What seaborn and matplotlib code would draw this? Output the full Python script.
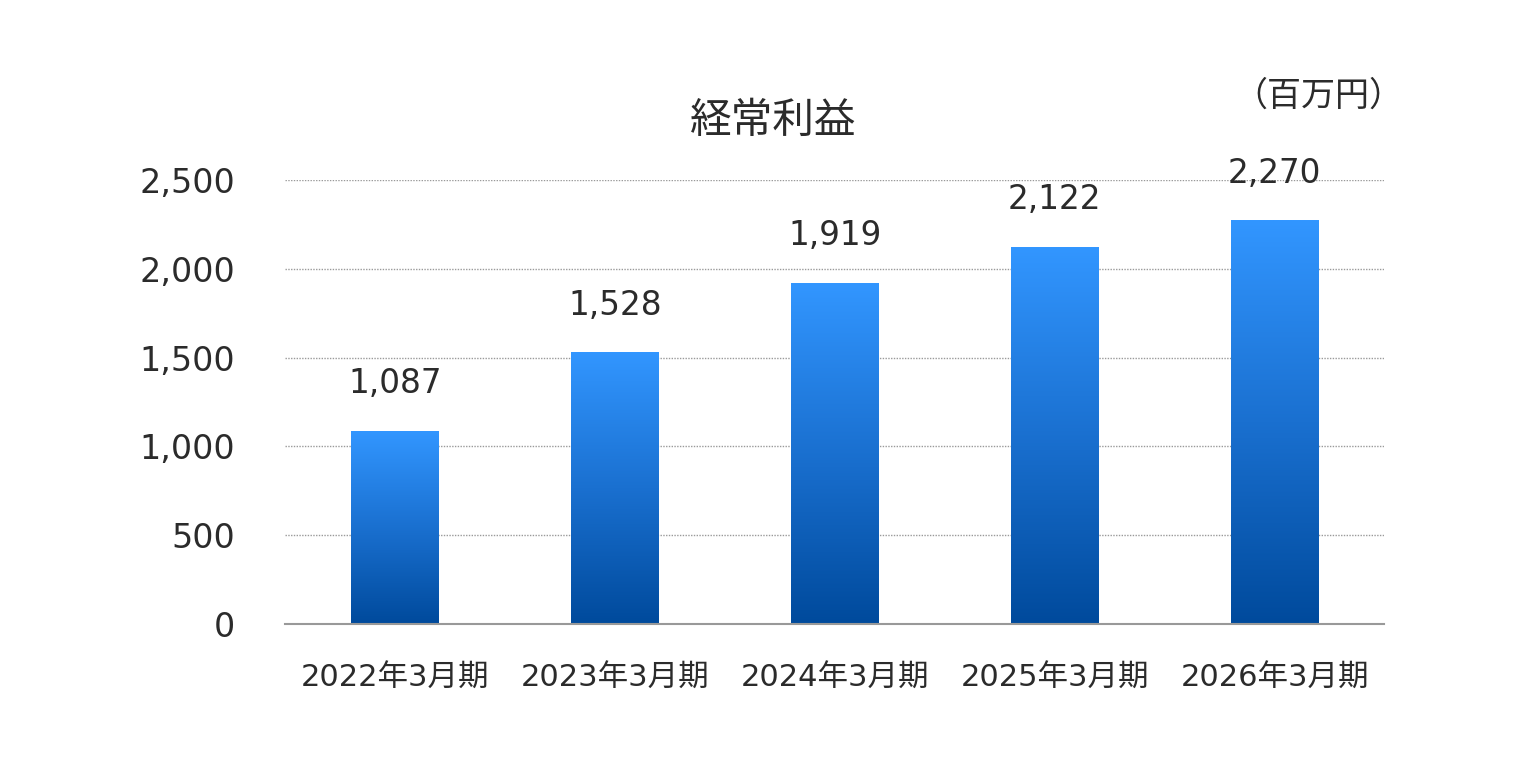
import numpy as np
import matplotlib
matplotlib.use('Agg')
import matplotlib.pyplot as plt
import seaborn as sns
import pandas as pd
from matplotlib.colors import LinearSegmentedColormap

sns.set_theme(style="white")
# Verdana-like digits from DejaVu, kanji from Noto CJK
plt.rcParams['font.family'] = ['DejaVu Sans', 'Noto Sans CJK JP']

# Data
periods = ['2022年3月期', '2023年3月期', '2024年3月期', '2025年3月期', '2026年3月期']
values = [1087, 1528, 1919, 2122, 2270]
yticks = [0, 500, 1000, 1500, 2000, 2500]

TEXT = '#2b2b2b'
CJK = ['Noto Sans CJK JP', 'DejaVu Sans']
df = pd.DataFrame({'period': periods, 'value': values})

fig = plt.figure(figsize=(15.4, 7.6), dpi=100)
ax = fig.add_axes([0.185, 0.179, 0.714, 0.584])

sns.barplot(data=df, x='period', y='value', width=0.4, color='#1f77d0', ax=ax)

# vertical gradient fill for each bar
grad = LinearSegmentedColormap.from_list('bar', ['#004a9c', '#1a70d0', '#3296ff'])
img = np.linspace(0, 1, 256).reshape(-1, 1)
for p in ax.patches:
    x0, y0 = p.get_x(), p.get_y()
    w, h = p.get_width(), p.get_height()
    ax.imshow(img, cmap=grad, origin='lower', aspect='auto',
              extent=[x0, x0 + w, y0, y0 + h], zorder=2)
    p.set_visible(False)
    ax.text(x0 + w / 2, y0 + h + 215, f'{int(h):,}', ha='center', va='baseline',
            fontsize=23.5, color=TEXT)

ax.set_xlim(-0.5, len(periods) - 0.5)
ax.set_ylim(0, 2500)
ax.set_yticks(yticks)
ax.set_yticklabels([f'{v:,}' for v in yticks])
ax.set_xlabel('')
ax.set_ylabel('')

for v in yticks[1:]:
    ax.axhline(v, color='#9a9a9a', lw=1, ls=(0, (1, 1)), zorder=1)
for s in ['top', 'right', 'left']:
    ax.spines[s].set_visible(False)
ax.spines['bottom'].set_color('#999999')
ax.spines['bottom'].set_linewidth(1.5)

ax.tick_params(axis='y', labelsize=24, colors=TEXT, length=0, pad=36)
ax.tick_params(axis='x', labelsize=22, colors=TEXT, length=0, pad=29)

fig.text(0.502, 0.84, '経常利益', ha='center', va='center', fontsize=30,
         color=TEXT, family=CJK)
fig.text(0.911, 0.874, '（百万円）', ha='right', va='center', fontsize=24.5,
         color=TEXT, family=CJK)

fig.savefig('out.png', dpi=100)
